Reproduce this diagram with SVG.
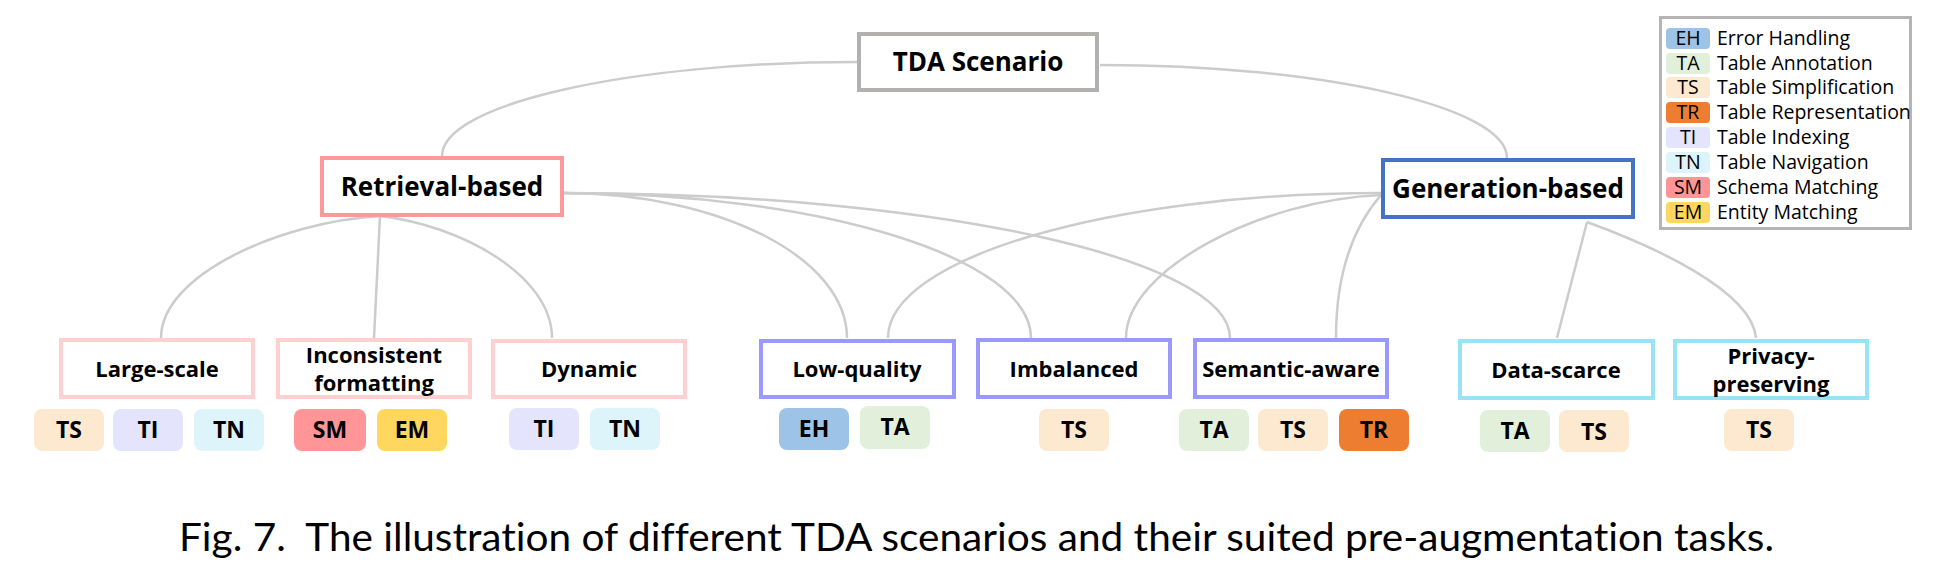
<svg xmlns="http://www.w3.org/2000/svg" width="1936" height="568" viewBox="0 0 1936 568">
<style>
.bg{fill:#ffffff}
.node{fill:#ffffff;stroke-width:4}
.root{stroke:#b3b0b0}
.ret{stroke:#ff9999}
.gen{stroke:#4472c4}
.retc{stroke:#ffd0d0}
.mid{stroke:#9999ff}
.genc{stroke:#99e3f7}
.big{font-family:"Open Sans","Noto Sans",sans-serif;font-weight:bold;font-size:26px;fill:#000;text-anchor:middle}
.lbl{font-family:"Open Sans","Noto Sans",sans-serif;font-weight:bold;font-size:22px;fill:#000;text-anchor:middle}
.bt{font-family:"Open Sans","Noto Sans",sans-serif;font-weight:bold;font-size:23px;fill:#000;text-anchor:middle}
.lt{font-family:"Open Sans","Noto Sans",sans-serif;font-size:19.5px;fill:#000}
.ltc{font-family:"Open Sans","Noto Sans",sans-serif;font-size:19.5px;fill:#000;text-anchor:middle}
.conn path,.conn line{fill:none;stroke:#cccccc;stroke-width:2.5}
.EH{fill:#9dc3e6}.TA{fill:#e2efda}.TS{fill:#fde8d0}.TR{fill:#ed7d31}.TI{fill:#e4e4fc}.TN{fill:#ddf4fa}.SM{fill:#ff9596}.EM{fill:#ffd75e}
.cap{font-family:"Lato","Open Sans",sans-serif;font-size:38px;fill:#000;font-variant-ligatures:none;font-feature-settings:"liga" 0,"clig" 0}
</style>
<rect class="bg" x="0" y="0" width="1936" height="568"/>

<g id="connectors" class="conn">
  <path d="M857,62 C629,62 442,104 442,156"/>
  <path d="M1100,65 C1324,65 1507,107 1507,158"/>
  <path d="M380,216 C280,222 161,275 161,338"/>
  <line x1="380" y1="216" x2="374" y2="338"/>
  <path d="M380,216 C460,225 552,275 552,338"/>
  <path d="M564,193 C720,193 847,258 847,338"/>
  <path d="M564,193 C821,193 1031,258 1031,338"/>
  <path d="M564,193 C930,193 1230,258 1230,338"/>
  <path d="M1381,193 C1110,193 888,258 888,338"/>
  <path d="M1381,195 C1260,200 1126,270 1126,338"/>
  <path d="M1381,195 C1355,225 1336,270 1336,338"/>
  <line x1="1587" y1="222" x2="1557" y2="338"/>
  <path d="M1587,222 C1650,245 1752,290 1756,338"/>
</g>

<g id="tda-scenario">
  <rect class="node root" x="859" y="34" width="238" height="56"/>
  <text class="big" x="978" y="71" font-size="27">TDA Scenario</text>
</g>
<g id="retrieval-based">
  <rect class="node ret" x="322" y="158" width="240" height="57"/>
  <text class="big" x="442" y="196">Retrieval-based</text>
</g>
<g id="generation-based">
  <rect class="node gen" x="1383" y="160" width="250" height="57"/>
  <text class="big" x="1508" y="198">Generation-based</text>
</g>

<g id="large-scale">
  <rect class="node retc" x="61" y="340" width="192" height="57"/>
  <text class="lbl" x="157" y="377">Large-scale</text>
</g>
<g id="inconsistent-formatting">
  <rect class="node retc" x="278" y="340" width="192" height="57"/>
  <text class="lbl" x="374" y="363">Inconsistent</text>
  <text class="lbl" x="374" y="391">formatting</text>
</g>
<g id="dynamic">
  <rect class="node retc" x="493" y="341" width="192" height="56"/>
  <text class="lbl" x="589" y="377">Dynamic</text>
</g>
<g id="low-quality">
  <rect class="node mid" x="761" y="341" width="193" height="56"/>
  <text class="lbl" x="857" y="377">Low-quality</text>
</g>
<g id="imbalanced">
  <rect class="node mid" x="978" y="340" width="192" height="57"/>
  <text class="lbl" x="1074" y="377">Imbalanced</text>
</g>
<g id="semantic-aware">
  <rect class="node mid" x="1195" y="340" width="192" height="57"/>
  <text class="lbl" x="1291" y="377">Semantic-aware</text>
</g>
<g id="data-scarce">
  <rect class="node genc" x="1460" y="341" width="193" height="57"/>
  <text class="lbl" x="1556" y="378">Data-scarce</text>
</g>
<g id="privacy-preserving">
  <rect class="node genc" x="1675" y="341" width="192" height="57"/>
  <text class="lbl" x="1771" y="364">Privacy-</text>
  <text class="lbl" x="1771" y="392">preserving</text>
</g>

<g id="badges-large-scale">
  <rect class="TS" x="34" y="409" width="70" height="42" rx="8"/><text class="bt" x="69" y="438">TS</text>
  <rect class="TI" x="113" y="409" width="70" height="42" rx="8"/><text class="bt" x="148" y="438">TI</text>
  <rect class="TN" x="194" y="409" width="70" height="42" rx="8"/><text class="bt" x="229" y="438">TN</text>
</g>
<g id="badges-inconsistent">
  <rect class="SM" x="294" y="409" width="72" height="42" rx="8"/><text class="bt" x="330" y="438">SM</text>
  <rect class="EM" x="377" y="409" width="70" height="42" rx="8"/><text class="bt" x="412" y="438">EM</text>
</g>
<g id="badges-dynamic">
  <rect class="TI" x="509" y="408" width="70" height="42" rx="8"/><text class="bt" x="544" y="437">TI</text>
  <rect class="TN" x="590" y="408" width="70" height="42" rx="8"/><text class="bt" x="625" y="437">TN</text>
</g>
<g id="badges-low-quality">
  <rect class="EH" x="779" y="408" width="70" height="42" rx="8"/><text class="bt" x="814" y="437">EH</text>
  <rect class="TA" x="860" y="406" width="70" height="43" rx="8"/><text class="bt" x="895" y="435">TA</text>
</g>
<g id="badges-imbalanced">
  <rect class="TS" x="1039" y="409" width="70" height="42" rx="8"/><text class="bt" x="1074" y="438">TS</text>
</g>
<g id="badges-semantic">
  <rect class="TA" x="1179" y="409" width="70" height="42" rx="8"/><text class="bt" x="1214" y="438">TA</text>
  <rect class="TS" x="1258" y="409" width="70" height="42" rx="8"/><text class="bt" x="1293" y="438">TS</text>
  <rect class="TR" x="1339" y="409" width="70" height="42" rx="8"/><text class="bt" x="1374" y="438">TR</text>
</g>
<g id="badges-data-scarce">
  <rect class="TA" x="1480" y="410" width="70" height="42" rx="8"/><text class="bt" x="1515" y="439">TA</text>
  <rect class="TS" x="1559" y="410" width="70" height="42" rx="8"/><text class="bt" x="1594" y="440">TS</text>
</g>
<g id="badges-privacy">
  <rect class="TS" x="1724" y="409" width="70" height="42" rx="8"/><text class="bt" x="1759" y="438">TS</text>
</g>

<g id="legend">
  <rect x="1660.5" y="17.5" width="250" height="211" fill="#ffffff" stroke="#b4b4b4" stroke-width="3"/>
  <rect class="EH" x="1666" y="28" width="44" height="21" rx="4"/><text class="ltc" x="1688" y="45">EH</text><text class="lt" x="1717" y="45">Error Handling</text>
  <rect class="TA" x="1666" y="53" width="44" height="21" rx="4"/><text class="ltc" x="1688" y="70">TA</text><text class="lt" x="1717" y="70">Table Annotation</text>
  <rect class="TS" x="1666" y="77" width="44" height="21" rx="4"/><text class="ltc" x="1688" y="94">TS</text><text class="lt" x="1717" y="94">Table Simplification</text>
  <rect class="TR" x="1666" y="102" width="44" height="21" rx="4"/><text class="ltc" x="1688" y="119">TR</text><text class="lt" x="1717" y="119">Table Representation</text>
  <rect class="TI" x="1666" y="127" width="44" height="21" rx="4"/><text class="ltc" x="1688" y="144">TI</text><text class="lt" x="1717" y="144">Table Indexing</text>
  <rect class="TN" x="1666" y="152" width="44" height="21" rx="4"/><text class="ltc" x="1688" y="169">TN</text><text class="lt" x="1717" y="169">Table Navigation</text>
  <rect class="SM" x="1666" y="177" width="44" height="21" rx="4"/><text class="ltc" x="1688" y="194">SM</text><text class="lt" x="1717" y="194">Schema Matching</text>
  <rect class="EM" x="1666" y="202" width="44" height="21" rx="4"/><text class="ltc" x="1688" y="219">EM</text><text class="lt" x="1717" y="219">Entity Matching</text>
</g>

<text class="cap" x="179" y="551" xml:space="preserve" textLength="1595" lengthAdjust="spacingAndGlyphs">Fig. 7.  The illustration of different TDA scenarios and their suited pre-augmentation tasks.</text>
</svg>
